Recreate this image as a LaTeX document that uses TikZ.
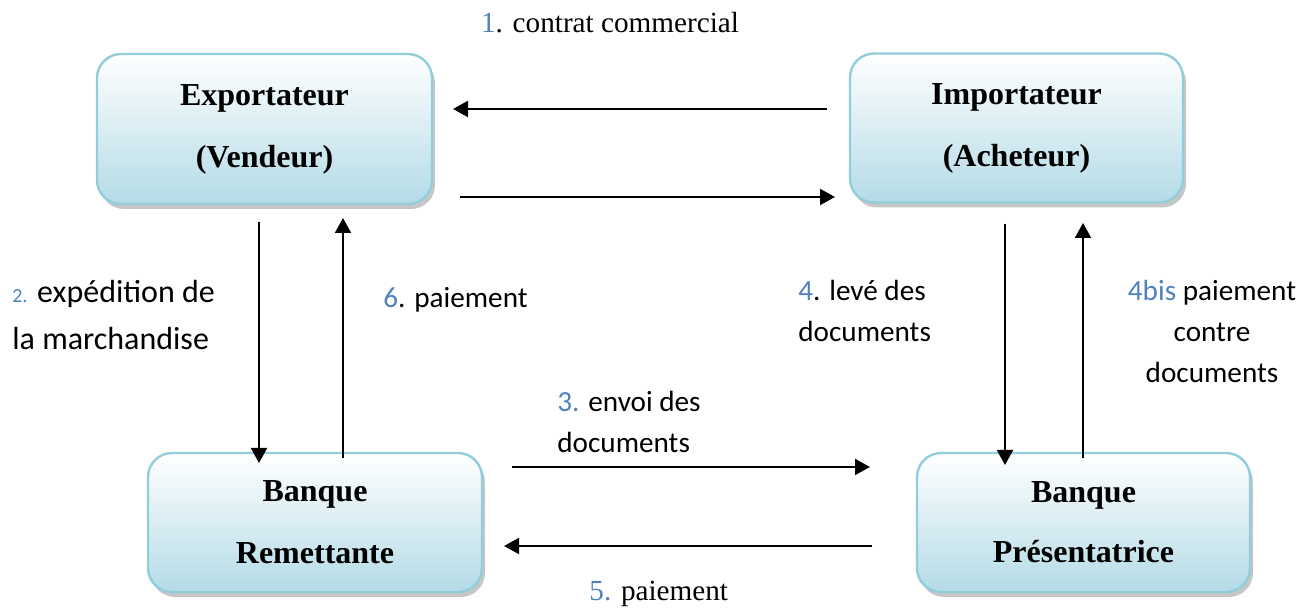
\documentclass[tikz,border=0pt]{standalone}
\usepackage{fontspec}
\setmainfont{Liberation Serif}
\newfontfamily\calibri{Carlito}
\usetikzlibrary{arrows.meta,shadows}

\definecolor{bordbleu}{RGB}{146,205,220}
\definecolor{fondbleu}{RGB}{180,219,231}
\definecolor{numbleu}{RGB}{79,129,189}
\newcommand{\numero}[1]{\textcolor{numbleu}{#1}}

\tikzset{
  acteur/.style={draw=bordbleu, line width=1.2pt, rounded corners=12pt,
    top color=white, bottom color=fondbleu,
    drop shadow={shadow xshift=1.5pt, shadow yshift=-2.5pt, opacity=.45, fill=gray},
    align=center, inner sep=0pt, font=\fontsize{16}{19}\selectfont\bfseries},
  fleche/.style={line width=1pt, -{Triangle[length=7.5pt,width=8pt]}},
  etiq/.style={inner sep=0pt, align=left, font=\calibri\fontsize{14.6}{20.5}\selectfont},
  etiqtimes/.style={inner sep=0pt, font=\fontsize{14.6}{18}\selectfont}
}

\begin{document}
\begin{tikzpicture}[x=0.5pt,y=-0.5pt]
  \useasboundingbox (0,0) rectangle (1308,608);

  % les quatre acteurs
  \node[acteur, minimum width=167.5pt, minimum height=75pt] (exp) at (264.5,129) {Exportateur\\[12pt](Vendeur)};
  \node[acteur, minimum width=166.5pt, minimum height=74.5pt] (imp) at (1016.5,128) {Importateur\\[12pt](Acheteur)};
  \node[acteur, minimum width=167pt, minimum height=69.5pt] (brem) at (315,522.5) {Banque\\[12pt]Remettante};
  \node[acteur, minimum width=166.5pt, minimum height=69.5pt] (bpres) at (1083.5,522.5) {Banque\\[11pt]Présentatrice};

  % extremites des fleches
  \coordinate (c1a) at (827,109);  \coordinate (c1b) at (453,109);
  \coordinate (c2a) at (460,197);  \coordinate (c2b) at (835,197);
  \coordinate (c3a) at (259,222);  \coordinate (c3b) at (259,463);
  \coordinate (c4a) at (343,458);  \coordinate (c4b) at (343,218);
  \coordinate (c5a) at (1005,224); \coordinate (c5b) at (1005,465);
  \coordinate (c6a) at (1083,458); \coordinate (c6b) at (1083,223);
  \coordinate (c7a) at (512,467);  \coordinate (c7b) at (870,467);
  \coordinate (c8a) at (872,546);  \coordinate (c8b) at (504,546);

  \draw[fleche] (c1a) -- (c1b);
  \draw[fleche] (c2a) -- (c2b);
  \draw[fleche] (c3a) -- (c3b);
  \draw[fleche] (c4a) -- (c4b);
  \draw[fleche] (c5a) -- (c5b);
  \draw[fleche] (c6a) -- (c6b);
  \draw[fleche] (c7a) -- (c7b);
  \draw[fleche] (c8a) -- (c8b);

  % etiquettes (base = ligne du bas)
  \node[etiqtimes, anchor=base] (lcontrat) at (610,33) {\numero{1}. contrat commercial};
  \node[etiq, anchor=base west, font=\calibri\fontsize{16}{23.5}\selectfont] (lexped) at (12,350)
    {\numero{\fontsize{10}{12}\selectfont 2.} expédition de\\la marchandise};
  \node[etiq, anchor=base west] (lpaie6) at (383,308) {\numero{6}. paiement};
  \node[etiq, anchor=base west] (lleve) at (798,342) {\numero{4}. levé des\\documents};
  \node[etiq, anchor=base, align=center] (lbis) at (1212,383) {\numero{4bis} paiement\\contre\\documents};
  \node[etiq, anchor=base west] (lenvoi) at (557,453) {\numero{3.} envoi des\\documents};
  \node[etiqtimes, anchor=base west] (lpaie5) at (589,601) {\numero{5.} paiement};
\end{tikzpicture}
\end{document}
